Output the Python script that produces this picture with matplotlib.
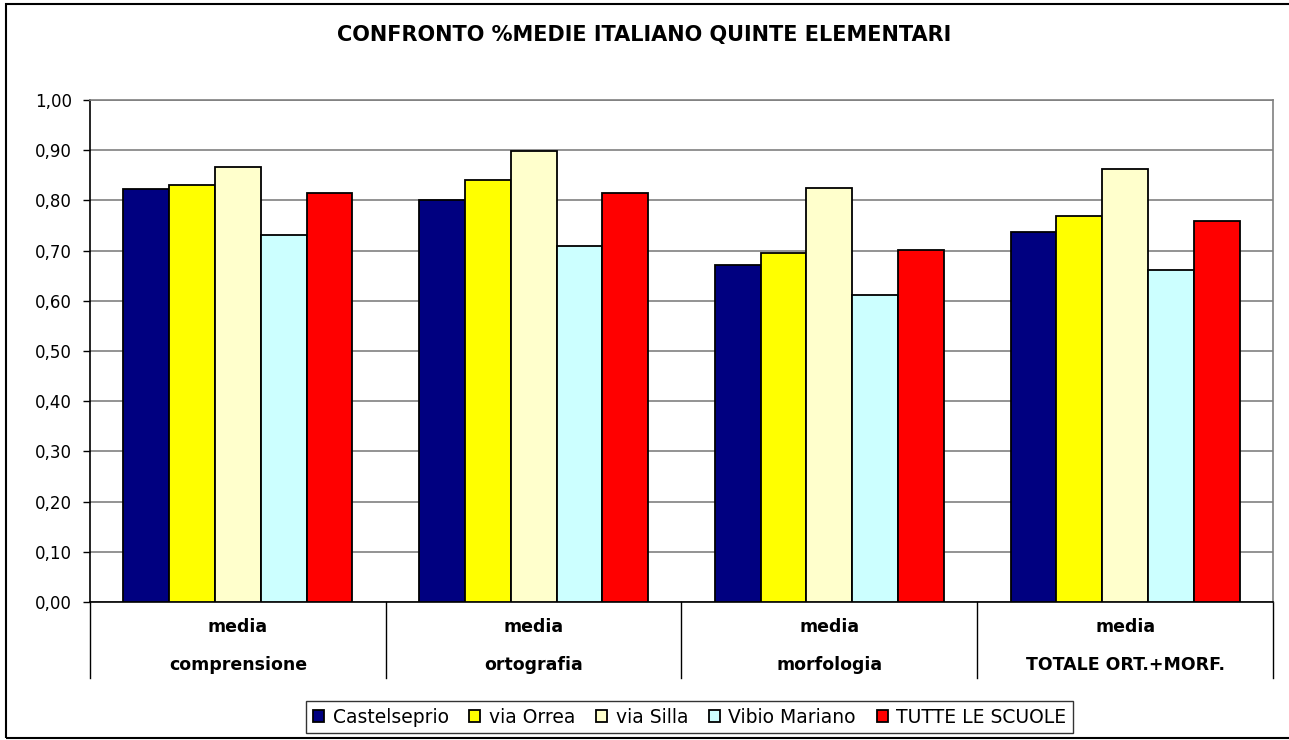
import matplotlib.pyplot as plt
import numpy as np
from matplotlib.patches import Rectangle

plt.rcParams['font.family'] = ['DejaVu Sans']

categories_top = ['media', 'media', 'media', 'media']
categories_bottom = ['comprensione', 'ortografia', 'morfologia', 'TOTALE ORT.+MORF.']
series_names = ['Castelseprio', 'via Orrea', 'via Silla', 'Vibio Mariano', 'TUTTE LE SCUOLE']
castelseprio = [0.823, 0.801, 0.672, 0.738]
via_orrea = [0.831, 0.841, 0.696, 0.769]
via_silla = [0.867, 0.898, 0.825, 0.863]
vibio_mariano = [0.732, 0.710, 0.612, 0.662]
tutte = [0.815, 0.815, 0.702, 0.759]
colors = ['#000080', '#FFFF00', '#FFFFCC', '#CCFFFF', '#FF0000']
yticks = [0.0, 0.1, 0.2, 0.3, 0.4, 0.5, 0.6, 0.7, 0.8, 0.9, 1.0]

fig = plt.figure(figsize=(12.89, 7.40), dpi=100)
ax = fig.add_axes([0.0698, 0.1865, 0.9178, 0.6784])

x = np.arange(len(categories_bottom))
w = 0.155
all_series = [castelseprio, via_orrea, via_silla, vibio_mariano, tutte]
for i, (vals, name, c) in enumerate(zip(all_series, series_names, colors)):
    ax.bar(x + (i - 2) * w, vals, w, color=c, edgecolor='black', linewidth=1.3,
           label=name, zorder=3)

ax.set_xlim(-0.5, len(x) - 0.5)
ax.set_ylim(0, 1.0)
ax.set_yticks(yticks)
ax.set_yticklabels([f'{v:.2f}'.replace('.', ',') for v in yticks], fontsize=12)
ax.yaxis.grid(True, color='#808080', linewidth=1.2, zorder=0)
ax.set_xticks([])
ax.tick_params(axis='y', length=5, width=1, direction='out', pad=8)
for s in ['top', 'right']:
    ax.spines[s].set_color('#808080')
    ax.spines[s].set_linewidth(1.2)
ax.spines['left'].set_linewidth(1.2)
ax.spines['bottom'].set_linewidth(1.2)

# category separators and two-line labels below the axis
for b in np.arange(-0.5, len(x), 1.0):
    ax.plot([b, b], [0, -0.151], color='black', linewidth=1, clip_on=False)
for xi, t1, t2 in zip(x, categories_top, categories_bottom):
    ax.text(xi, -0.05, t1, ha='center', va='center', fontsize=12.5,
            fontweight='bold')
    ax.text(xi, -0.126, t2, ha='center', va='center', fontsize=12.5,
            fontweight='bold')

fig.text(0.5, 0.953, 'CONFRONTO %MEDIE ITALIANO QUINTE ELEMENTARI',
         ha='center', va='center', fontsize=15, fontweight='bold')

leg = fig.legend(loc='center', bbox_to_anchor=(0.535, 0.031), ncol=5,
                 fontsize=13.5, frameon=True, fancybox=False, handlelength=0.6,
                 handleheight=0.6, handletextpad=0.45, columnspacing=1.1,
                 borderpad=0.35, edgecolor='black')
leg.get_frame().set_linewidth(1.0)

# outer chart border
fig.patches.append(Rectangle((0.0047, 0.003), 1.2, 0.992, transform=fig.transFigure,
                             fill=False, edgecolor='black', linewidth=1.5))

fig.savefig('out.png', dpi=100)
